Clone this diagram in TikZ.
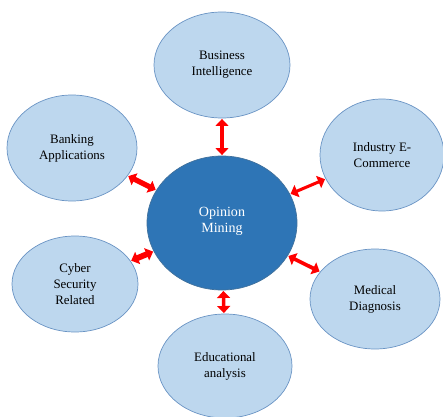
\documentclass[tikz,border=0pt]{standalone}
\usepackage{fontspec}
\setmainfont{Liberation Serif}
\usetikzlibrary{shapes.geometric}
\usetikzlibrary{arrows.meta}
\definecolor{leafblue}{HTML}{BDD7EE}
\definecolor{leafedge}{HTML}{6A94C4}
\definecolor{hubblue}{HTML}{2E75B6}
\definecolor{hubedge}{HTML}{41719C}
\tikzset{
  leaf/.style={ellipse, draw=leafedge, fill=leafblue, line width=0.6pt, inner sep=0pt,
    align=center, font=\fontsize{11}{13.6}\selectfont},
  hub/.style={ellipse, draw=hubedge, fill=hubblue, line width=0.6pt, inner sep=0pt,
    align=center, text=white, font=\fontsize{12}{15}\selectfont},
  link/.style={red, line width=3.6pt, shorten >=0.5pt, shorten <=0.5pt,
    {Triangle[width=11pt,length=6pt]}-{Triangle[width=11pt,length=6pt]}}
}
\begin{document}
\begin{tikzpicture}[x=0.03cm,y=-0.03cm]
\useasboundingbox (0,0) rectangle (443,417);
% centre topic
\node[hub, minimum width=150*0.03cm, minimum height=134*0.03cm] (om) at (222,223) {\raisebox{5pt}{\shortstack{Opinion\\Mining}}};
% application areas around it
\node[leaf, minimum width=136*0.03cm, minimum height=106*0.03cm] (bi) at (222,65) {Business\\Intelligence};
\node[leaf, minimum width=130*0.03cm, minimum height=106*0.03cm] (ba) at (72,148) {Banking\\Applications};
\node[leaf, minimum width=124*0.03cm, minimum height=112*0.03cm] (ie) at (382,155) {Industry E-\\Commerce};
\node[leaf, minimum width=126*0.03cm, minimum height=96*0.03cm] (cs) at (75,284) {Cyber\\Security\\Related};
\node[leaf, minimum width=130*0.03cm, minimum height=100*0.03cm] (md) at (375,299) {Medical\\Diagnosis};
\node[leaf, minimum width=134*0.03cm, minimum height=104*0.03cm] (ea) at (225,366) {Educational\\analysis};
% two-way links
\draw[link, line width=3pt] (om) -- (bi);
\draw[link, line width=4.5pt] (om) -- (ba);
\draw[link, line width=2.6pt] (om) -- (ie);
\draw[link, line width=5pt] (om) -- (cs);
\draw[link, line width=3.2pt] (om) -- (md);
\draw[link, line width=3pt] (om) -- (ea);
\end{tikzpicture}
\end{document}
